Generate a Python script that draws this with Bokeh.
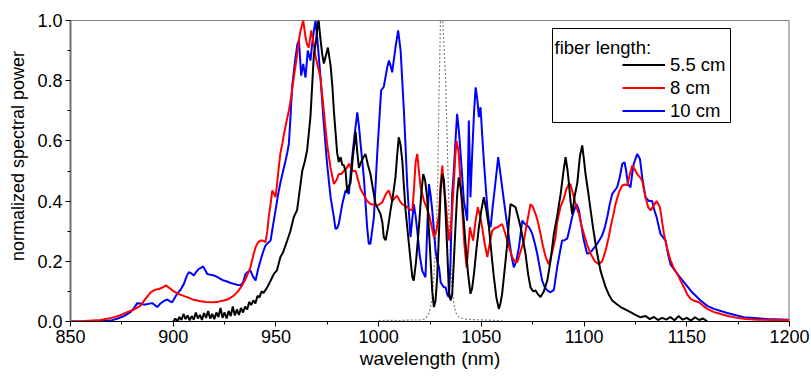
import math
from bokeh.plotting import figure
from bokeh.models import (Range1d, FixedTicker, PrintfTickFormatter, Span, Legend,
                          LegendItem, BoxAnnotation, Label)
from bokeh.embed import file_html
from bokeh.resources import INLINE

# ---------------- data ----------------
wl_55 = [900, 901, 902, 903, 904, 905, 906, 907, 908, 909, 910, 911, 912, 913, 914, 915, 916, 917, 918, 919,
         920, 921, 922, 923, 924, 925, 926, 927, 928, 929, 930, 931, 932, 933, 934, 935, 936, 937, 938, 939,
         940, 941, 942, 943, 944, 945.8, 947, 949, 950.5, 952.2, 953.5, 955.5, 957, 958.7, 960.3, 962, 962.8,
         964, 965.2, 966.8, 968.5, 969.5, 970.4, 970.8, 971.5, 972.5, 973.3, 974.2, 975.3, 976.6, 977.5, 978.2,
         979.8, 980.6, 981.5, 982.3, 983, 983.9, 984.7, 985.5, 986.3, 987.5, 988.8, 989.5, 990.4, 991.5, 992.5,
         993.6, 994.8, 996, 997, 998.5, 1000, 1000.9, 1001.8, 1002.5, 1003.4, 1004.5, 1005.8, 1007, 1008.2,
         1009, 1009.8, 1010.6, 1011.5, 1012.3, 1013.1, 1014.7, 1015.6, 1016.4, 1017.1, 1018.2, 1019.6, 1020.7,
         1021.7, 1022.6, 1023.6, 1024.5, 1025.3, 1026.1, 1026.9, 1027.7, 1028.5, 1029.4, 1030.2, 1031, 1031.8,
         1032.6, 1033.4, 1034.2, 1035, 1035.8, 1036.6, 1037.4, 1038.2, 1039, 1039.8, 1040.7, 1041.5, 1042.3,
         1043.5, 1044.7, 1045.5, 1046.4, 1047.6, 1048.8, 1050, 1051.2, 1052.4, 1053.7, 1055, 1056.1, 1057.3,
         1058.5, 1059.3, 1060.1, 1061.3, 1062.6, 1063.4, 1064.2, 1065.4, 1066.6, 1067.8, 1069.1, 1070.3, 1071.5,
         1072.7, 1073.9, 1075.2, 1076.4, 1077.6, 1078.8, 1080.4, 1082.1, 1083.7, 1085.3, 1086.9, 1088.6, 1090,
         1091, 1092, 1092.6, 1093.4, 1094.2, 1095.5, 1096.7, 1098, 1099.1, 1099.9, 1100.7, 1102, 1103.2, 1104.4,
         1105.6, 1106.8, 1108, 1109.3, 1110.5, 1112, 1113.7, 1115.5, 1117.8, 1120, 1122.6, 1125, 1127.5, 1130,
         1132, 1134, 1136, 1138, 1140, 1142, 1144, 1146, 1148, 1150, 1152, 1154, 1156, 1158, 1160]
p_55 = [0.0, 0.01, 0.0, 0.015, 0.005, 0.025, 0.008, 0.02, 0.004, 0.018, 0.006, 0.03, 0.01, 0.022, 0.005, 0.028,
        0.012, 0.035, 0.01, 0.025, 0.008, 0.03, 0.015, 0.045, 0.012, 0.03, 0.01, 0.035, 0.018, 0.05, 0.02, 0.04,
        0.022, 0.045, 0.03, 0.05, 0.04, 0.065, 0.055, 0.07, 0.06, 0.085, 0.08, 0.1, 0.095, 0.114, 0.13, 0.158,
        0.17, 0.214, 0.23, 0.269, 0.3, 0.347, 0.37, 0.457, 0.50, 0.53, 0.57, 0.68, 0.89, 0.93, 0.99, 1.0, 0.95,
        0.89, 0.857, 0.88, 0.91, 0.85, 0.78, 0.70, 0.56, 0.53, 0.546, 0.52, 0.52, 0.50, 0.43, 0.45, 0.46, 0.55,
        0.63, 0.57, 0.51, 0.53, 0.545, 0.556, 0.52, 0.49, 0.45, 0.39, 0.37, 0.357, 0.33, 0.28, 0.27, 0.31, 0.37,
        0.42, 0.48, 0.55, 0.612, 0.59, 0.535, 0.45, 0.37, 0.26, 0.2, 0.147, 0.136, 0.2, 0.313, 0.42, 0.49, 0.47,
        0.413, 0.3, 0.203, 0.1, 0.048, 0.07, 0.147, 0.3, 0.44, 0.49, 0.47, 0.36, 0.236, 0.1, 0.07, 0.09, 0.2,
        0.313, 0.42, 0.479, 0.45, 0.40, 0.33, 0.258, 0.16, 0.092, 0.11, 0.158, 0.24, 0.313, 0.37, 0.413, 0.37,
        0.313, 0.22, 0.147, 0.08, 0.042, 0.06, 0.092, 0.17, 0.258, 0.33, 0.39, 0.385, 0.38, 0.35, 0.313, 0.27,
        0.225, 0.16, 0.114, 0.1, 0.103, 0.09, 0.081, 0.1, 0.136, 0.203, 0.291, 0.35, 0.424, 0.5, 0.546, 0.5, 0.46,
        0.4, 0.357, 0.42, 0.46, 0.55, 0.585, 0.54, 0.49, 0.43, 0.369, 0.31, 0.258, 0.21, 0.169, 0.14, 0.114, 0.09,
        0.07, 0.06, 0.048, 0.04, 0.031, 0.022, 0.014, 0.018, 0.008, 0.015, 0.005, 0.012, 0.006, 0.015, 0.004,
        0.018, 0.006, 0.012, 0.003, 0.014, 0.005, 0.01, 0.0]

wl_8 = [850, 857, 864.6, 870, 874, 877.6, 881, 884, 886.5, 889, 891, 893, 894.5, 896.5, 898, 900.3, 903, 906.8,
        910, 913.3, 916, 919.8, 922, 924.6, 927, 929.5, 931.5, 933.6, 935.5, 937.6, 939, 940.1, 941.2, 942.5,
        944, 944.9, 945.8, 946.5, 947.4, 948.2, 949, 949.8, 950.6, 951.4, 952.2, 953.1, 953.8, 955, 956.3,
        957.5, 958.7, 960.4, 961.3, 962, 963.3, 964.4, 965.2, 966, 967.2, 968.5, 969.3, 970.1, 971.7, 973.3,
        974.9, 976.6, 978.2, 979.5, 980.6, 981.8, 983, 984.5, 985.5, 986.5, 987.5, 988.8, 990, 991.2, 992.8,
        994.4, 996, 997.7, 999.3, 1000.5, 1001.7, 1003.3, 1004.2, 1005, 1006.6, 1007.8, 1009, 1010.3, 1011.5,
        1013.9, 1015.2, 1016.4, 1017.2, 1018, 1018.8, 1019.6, 1020.4, 1022.1, 1023.3, 1024.5, 1025.7, 1026.9,
        1028.1, 1029.4, 1030.1, 1031, 1031.7, 1032.6, 1033.4, 1034.2, 1035, 1035.8, 1036.6, 1037.4, 1037.9,
        1038.5, 1039, 1039.8, 1040.7, 1041.7, 1042.8, 1043.6, 1044.4, 1045.2, 1046, 1047.1, 1048.3, 1049.4,
        1050.4, 1051.6, 1052.9, 1054.1, 1055.3, 1056.5, 1057.7, 1058.9, 1060.1, 1061.3, 1062.6, 1063.8, 1065,
        1066.2, 1067.5, 1069, 1070.7, 1072.3, 1073.9, 1075.1, 1076.4, 1077.6, 1078.8, 1080, 1081.3, 1082.8,
        1084.5, 1086.1, 1086.9, 1088.5, 1090.2, 1091.4, 1092.6, 1093.4, 1095, 1096.3, 1097.5, 1098.7, 1099.9,
        1101.5, 1103.2, 1105.2, 1107.2, 1108.8, 1110.5, 1112, 1112.9, 1114.1, 1115.3, 1117, 1118.6, 1120, 1121,
        1122.3, 1123.5, 1124.7, 1125.9, 1127.1, 1128.3, 1129.1, 1129.9, 1131.2, 1132.4, 1133.8, 1135.3, 1136.9,
        1138, 1138.9, 1140.5, 1142.1, 1143.8, 1145.4, 1147, 1148.6, 1150.2, 1151.9, 1153.9, 1155.9, 1158, 1160,
        1163, 1166.5, 1170, 1174.6, 1179, 1184.3, 1192, 1200]
p_8 = [0.0, 0.002, 0.005, 0.012, 0.02, 0.031, 0.04, 0.052, 0.075, 0.097, 0.105, 0.108, 0.112, 0.12, 0.112, 0.1,
       0.09, 0.081, 0.072, 0.067, 0.065, 0.064, 0.066, 0.07, 0.075, 0.086, 0.1, 0.12, 0.145, 0.18, 0.22, 0.247,
       0.262, 0.269, 0.268, 0.263, 0.3, 0.347, 0.39, 0.435, 0.425, 0.413, 0.46, 0.513, 0.56, 0.59, 0.618, 0.66,
       0.70, 0.75, 0.81, 0.89, 0.94, 0.967, 1.0, 0.945, 0.92, 0.91, 0.967, 0.92, 0.88, 0.856, 0.81, 0.70, 0.59,
       0.51, 0.457, 0.47, 0.49, 0.49, 0.50, 0.51, 0.524, 0.51, 0.5, 0.50, 0.47, 0.44, 0.42, 0.40, 0.39, 0.388,
       0.385, 0.39, 0.396, 0.42, 0.43, 0.435, 0.40, 0.41, 0.418, 0.4, 0.39, 0.38, 0.372, 0.369, 0.44, 0.53, 0.557,
       0.5, 0.446, 0.40, 0.38, 0.357, 0.32, 0.28, 0.3, 0.357, 0.45, 0.518, 0.45, 0.4, 0.33, 0.269, 0.3, 0.369,
       0.46, 0.56, 0.60, 0.58, 0.557, 0.47, 0.369, 0.26, 0.18, 0.24, 0.313, 0.29, 0.269, 0.33, 0.38, 0.35, 0.313,
       0.26, 0.214, 0.26, 0.302, 0.31, 0.313, 0.318, 0.324, 0.3, 0.269, 0.24, 0.214, 0.2, 0.197, 0.23, 0.269,
       0.33, 0.39, 0.38, 0.357, 0.33, 0.291, 0.25, 0.214, 0.19, 0.23, 0.28, 0.33, 0.38, 0.41, 0.44, 0.457, 0.455,
       0.413, 0.38, 0.357, 0.32, 0.291, 0.255, 0.225, 0.2, 0.19, 0.2, 0.236, 0.28, 0.313, 0.35, 0.39, 0.43,
       0.452, 0.455, 0.452, 0.49, 0.518, 0.505, 0.49, 0.48, 0.468, 0.44, 0.413, 0.38, 0.369, 0.385, 0.40, 0.38,
       0.33, 0.291, 0.24, 0.203, 0.175, 0.158, 0.135, 0.114, 0.09, 0.075, 0.068, 0.064, 0.052, 0.042, 0.032,
       0.025, 0.018, 0.012, 0.008, 0.006, 0.005, 0.005]

wl_10 = [850, 860, 865, 869.5, 873, 876, 879.2, 881, 882.5, 884, 885.7, 887.5, 889.8, 891, 892.2, 893.5, 894.6,
         896, 897.1, 898.3, 899.5, 900.7, 901.9, 903.5, 905.2, 906.5, 907.6, 908.8, 910, 911.2, 912.5, 913.5,
         914.6, 915.5, 916.6, 918.2, 919.8, 921.4, 923, 924.6, 926.3, 927.9, 929.5, 931, 932.8, 934, 935.2,
         936.4, 937.6, 938.8, 940.1, 941.2, 942.5, 943.7, 944.9, 946.2, 947.4, 948.6, 949.8, 951, 952.2, 953.5,
         954.7, 955.5, 956.3, 957.1, 957.9, 959.2, 960.4, 961.2, 962.3, 963.3, 964.4, 965.5, 966.8, 967.6,
         968.5, 969.3, 970.4, 971.7, 973.3, 974.9, 976.6, 978.2, 979, 979.8, 980.6, 982.3, 983.9, 985.5, 987.1,
         988.3, 989.6, 990.4, 991.2, 992.8, 994.4, 995.2, 996, 997.7, 999.3, 1001.2, 1002.5, 1004.2, 1005,
         1005.8, 1006.6, 1008.2, 1009.5, 1010.7, 1011.5, 1012.3, 1013.1, 1013.9, 1015.5, 1017.1, 1018, 1018.8,
         1020, 1021.2, 1022.8, 1023.6, 1024.5, 1025.3, 1026.1, 1027.7, 1028.5, 1029.4, 1030.2, 1031.7, 1032.6,
         1033.4, 1034.2, 1035, 1035.8, 1036.6, 1037.4, 1038.2, 1039.1, 1039.9, 1041.5, 1042.3, 1043.1, 1043.5,
         1043.9, 1044.3, 1044.7, 1045.5, 1046.4, 1047.2, 1048, 1048.8, 1049.6, 1050.4, 1051.2, 1052.1, 1052.9,
         1053.7, 1054.5, 1055.5, 1056.6, 1058.2, 1059.3, 1061, 1062.2, 1063.4, 1064.6, 1065.8, 1067, 1068.3,
         1069.9, 1071, 1072.3, 1073.5, 1074.8, 1076, 1077.2, 1078.4, 1079.6, 1080.8, 1082.1, 1083.7, 1085.3,
         1086.9, 1088.5, 1089.3, 1090.5, 1091.8, 1093, 1094.2, 1095.2, 1096.3, 1097.5, 1098.3, 1099.9, 1101.5,
         1102.7, 1103.9, 1106.4, 1108.8, 1110, 1111.3, 1112.5, 1113.7, 1116.1, 1117.4, 1118.6, 1119.7, 1120.5,
         1121.3, 1122.6, 1123.4, 1124.2, 1125.9, 1127.2, 1128.3, 1129.9, 1131.6, 1133.2, 1134.2, 1135.3, 1137.2,
         1139.7, 1141, 1142.1, 1145.4, 1148.6, 1152.6, 1156.7, 1160, 1163.2, 1169.7, 1177.8, 1189.2, 1200]
p_10 = [0.0, 0.0, 0.002, 0.003, 0.01, 0.018, 0.031, 0.045, 0.061, 0.06, 0.056, 0.058, 0.061, 0.055, 0.048, 0.058,
        0.064, 0.07, 0.073, 0.068, 0.064, 0.078, 0.092, 0.105, 0.125, 0.15, 0.164, 0.16, 0.153, 0.165, 0.175,
        0.178, 0.183, 0.172, 0.158, 0.155, 0.153, 0.148, 0.142, 0.136, 0.133, 0.128, 0.125, 0.122, 0.12, 0.13,
        0.158, 0.165, 0.169, 0.15, 0.136, 0.17, 0.203, 0.23, 0.252, 0.262, 0.269, 0.32, 0.369, 0.42, 0.462, 0.5,
        0.535, 0.56, 0.59, 0.68, 0.78, 0.86, 0.92, 0.934, 0.817, 0.856, 0.81, 0.90, 0.867, 0.92, 0.967, 1.0,
        0.92, 0.81, 0.657, 0.524, 0.413, 0.347, 0.308, 0.31, 0.324, 0.39, 0.435, 0.424, 0.546, 0.62, 0.695, 0.65,
        0.59, 0.479, 0.313, 0.258, 0.258, 0.347, 0.557, 0.767, 0.78, 0.845, 0.867, 0.85, 0.828, 0.911, 0.967,
        0.90, 0.8, 0.70, 0.58, 0.457, 0.28, 0.39, 0.35, 0.302, 0.22, 0.169, 0.147, 0.3, 0.457, 0.42, 0.369,
        0.236, 0.2, 0.18, 0.13, 0.114, 0.114, 0.09, 0.081, 0.2, 0.424, 0.5, 0.6, 0.69, 0.63, 0.557, 0.40, 0.37,
        0.335, 0.5, 0.668, 0.55, 0.413, 0.55, 0.69, 0.778, 0.74, 0.679, 0.712, 0.62, 0.535, 0.45, 0.38, 0.33,
        0.313, 0.38, 0.446, 0.546, 0.49, 0.40, 0.34, 0.28, 0.22, 0.18, 0.2, 0.247, 0.335, 0.325, 0.319, 0.31,
        0.291, 0.26, 0.225, 0.18, 0.136, 0.115, 0.103, 0.097, 0.105, 0.18, 0.24, 0.269, 0.27, 0.275, 0.31, 0.347,
        0.37, 0.39, 0.37, 0.335, 0.269, 0.225, 0.228, 0.236, 0.258, 0.286, 0.31, 0.347, 0.39, 0.424, 0.446, 0.48,
        0.524, 0.529, 0.5, 0.457, 0.446, 0.49, 0.524, 0.557, 0.54, 0.479, 0.413, 0.40, 0.40, 0.37, 0.347, 0.291,
        0.269, 0.22, 0.19, 0.158, 0.131, 0.097, 0.07, 0.052, 0.042, 0.028, 0.014, 0.008, 0.006]

wl_pump = [1000, 1005, 1010, 1015, 1020, 1022.5, 1024.4, 1025.3, 1026.1, 1027, 1027.7, 1028.3, 1028.8, 1029.4,
           1030.1, 1030.6, 1031.2, 1032.6, 1033.4, 1034.2, 1035.3, 1036.6, 1037.5, 1039, 1042, 1047, 1052,
           1056, 1060]
p_pump = [0.003, 0.004, 0.003, 0.005, 0.005, 0.008, 0.025, 0.05, 0.081, 0.16, 0.259, 0.36, 0.479, 0.757, 1.0,
          1.3, 1.0, 0.81, 0.59, 0.369, 0.147, 0.059, 0.03, 0.014, 0.008, 0.006, 0.005, 0.004, 0.003]

series_labels = ["5.5 cm", "8 cm", "10 cm"]
legend_title = "fiber length:"
x_title = "wavelength (nm)"
y_title = "normalized spectral power"
x_major = [850, 900, 950, 1000, 1050, 1100, 1150, 1200]
x_minor = [875, 925, 975, 1025, 1075, 1125, 1175]
y_major = [0.0, 0.2, 0.4, 0.6, 0.8, 1.0]
y_minor = [0.1, 0.3, 0.5, 0.7, 0.9]

FONT = "Liberation Sans"

p = figure(width=811, height=376, output_backend="svg", toolbar_location=None,
           x_range=Range1d(850, 1200), y_range=Range1d(0, 1.0),
           min_border_left=70, min_border_right=22, min_border_top=20, min_border_bottom=55,
           background_fill_color="white", border_fill_color="white")
p.xgrid.visible = False
p.ygrid.visible = False
p.outline_line_color = None

# curves
p.line(wl_pump, p_pump, line_color="#808080", line_width=1.2, line_dash="2 2")
r10 = p.line(wl_10, p_10, line_color="#0000ff", line_width=2)
r8 = p.line(wl_8, p_8, line_color="#ff0000", line_width=2)
r55 = p.line(wl_55, p_55, line_color="#000000", line_width=2)

# frame lines
p.add_layout(Span(location=1.0, dimension="width", line_color="black", line_width=1.2))
p.add_layout(Span(location=1200, dimension="height", line_color="#707070", line_width=2))

# axes
xa = p.xaxis[0]
xa.ticker = FixedTicker(ticks=x_major, minor_ticks=x_minor)
xa.axis_label = x_title
xa.axis_line_color = "black"
xa.axis_line_width = 1.2
xa.major_tick_in = 0
xa.major_tick_out = 5
xa.minor_tick_in = 0
xa.minor_tick_out = 3
xa.major_tick_line_color = "black"
xa.minor_tick_line_color = "black"
xa.major_label_text_font = FONT
xa.major_label_text_font_size = "18px"
xa.major_label_text_color = "black"
xa.major_label_standoff = 3
xa.axis_label_text_font = FONT
xa.axis_label_text_font_size = "19px"
xa.axis_label_text_font_style = "normal"
xa.axis_label_text_color = "black"
xa.axis_label_standoff = 2

ya = p.yaxis[0]
ya.ticker = FixedTicker(ticks=y_major, minor_ticks=y_minor)
ya.formatter = PrintfTickFormatter(format="%.1f")
# leading no-break spaces nudge the centred title slightly upward, as in the reference
ya.axis_label = "\u00a0" * 6 + y_title
ya.axis_line_color = "#707070"
ya.axis_line_width = 2
ya.major_tick_in = 0
ya.major_tick_out = 5
ya.minor_tick_in = 0
ya.minor_tick_out = 3
ya.major_tick_line_color = "black"
ya.minor_tick_line_color = "black"
ya.major_label_text_font = FONT
ya.major_label_text_font_size = "18px"
ya.major_label_text_color = "black"
ya.major_label_standoff = 3
ya.axis_label_text_font = FONT
ya.axis_label_text_font_size = "18px"
ya.axis_label_text_font_style = "normal"
ya.axis_label_text_color = "black"
ya.axis_label_standoff = 6

# legend box + title + items
p.add_layout(BoxAnnotation(left=482, right=660, top=293, bottom=199,
                           left_units="screen", right_units="screen", top_units="screen", bottom_units="screen",
                           fill_color="white", fill_alpha=1.0, line_color="black", line_width=1, line_alpha=1.0))
p.add_layout(Label(x=484, y=274, x_units="screen", y_units="screen", text=legend_title,
                   text_align="left", text_baseline="alphabetic",
                   text_font=FONT, text_font_size="18.5px", text_color="black"))
legend = Legend(items=[LegendItem(label=series_labels[0], renderers=[r55]),
                       LegendItem(label=series_labels[1], renderers=[r8]),
                       LegendItem(label=series_labels[2], renderers=[r10])],
                location=(552, 199), orientation="vertical",
                padding=0, margin=0, spacing=0,
                glyph_width=43, glyph_height=23, label_height=23, label_standoff=5,
                label_text_font=FONT, label_text_font_size="18.5px", label_text_color="black",
                border_line_alpha=0, background_fill_alpha=0)
p.add_layout(legend)

open("out.html", "w").write(file_html(p, INLINE))
